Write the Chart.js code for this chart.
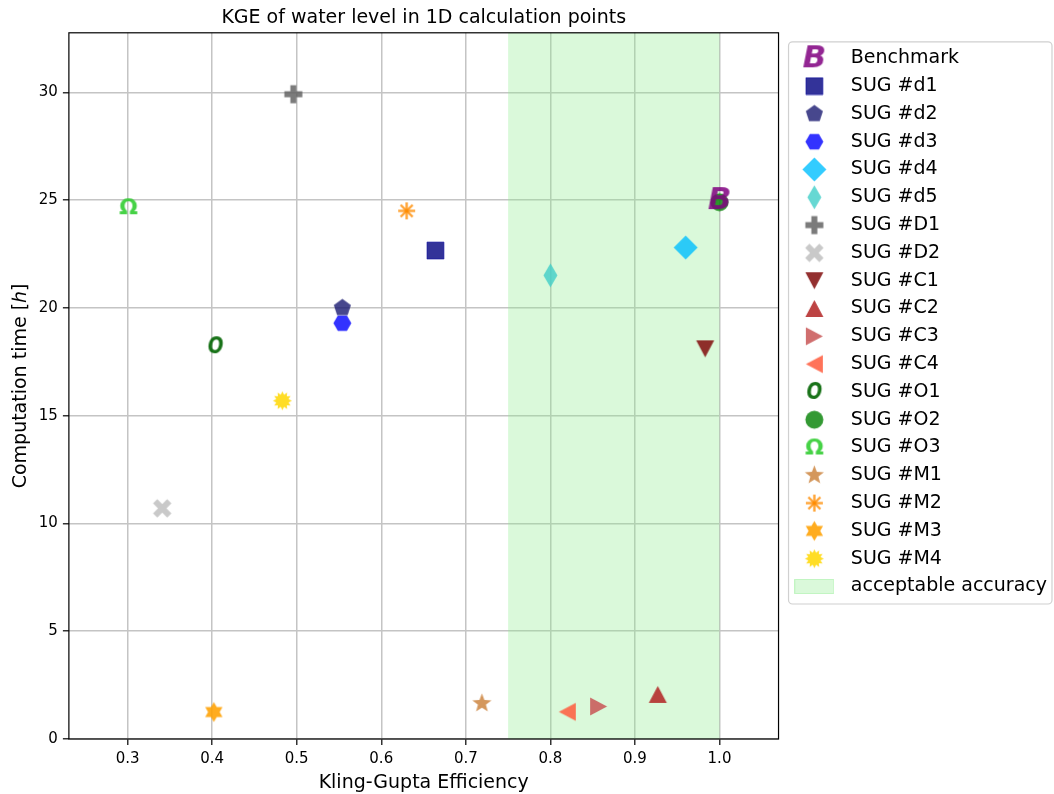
<!DOCTYPE html>
<html>
<head>
<meta charset="utf-8">
<script src="https://cdn.jsdelivr.net/npm/chart.js@4.4.1/dist/chart.umd.min.js"></script>
<style>
  html, body { margin: 0; padding: 0; background: #fff; }
  #wrap { width: 1054px; height: 794px; }
</style>
</head>
<body>
<div id="wrap"><canvas id="kgeChart" width="1054" height="794"></canvas></div>
<script>
// ====== Data ======
const seriesNames = [
  "Benchmark", "SUG #d1", "SUG #d2", "SUG #d3", "SUG #d4", "SUG #d5",
  "SUG #D1", "SUG #D2", "SUG #C1", "SUG #C2", "SUG #C3", "SUG #C4",
  "SUG #O1", "SUG #O2", "SUG #O3", "SUG #M1", "SUG #M2", "SUG #M3", "SUG #M4"
];
const kgeValues = [
  1.0, 0.664, 0.554, 0.554, 0.960, 0.800,
  0.496, 0.341, 0.983, 0.927, 0.857, 0.820,
  0.404, 1.0, 0.301, 0.719, 0.630, 0.402, 0.483
];
const hoursValues = [
  25.0, 22.66, 20.0, 19.29, 22.8, 21.51,
  29.91, 10.7, 18.1, 2.07, 1.51, 1.26,
  18.22, 24.9, 24.67, 1.65, 24.5, 1.25, 15.69
];
const bandLabel = "acceptable accuracy";
const bandRange = [0.75, 1.0];
const xTicks = [0.3, 0.4, 0.5, 0.6, 0.7, 0.8, 0.9, 1.0];
const yTicks = [0, 5, 10, 15, 20, 25, 30];
const xLimits = [0.2306, 1.0698];
const yLimits = [0, 32.76];

const FONT = '"DejaVu Sans", "Liberation Sans", sans-serif';

// ====== Markers (small canvases used as point styles) ======
function marker(w, h, draw) {
  const c = document.createElement("canvas");
  c.width = w;
  c.height = h;
  const g = c.getContext("2d");
  g.translate(w / 2, h / 2);
  draw(g);
  return c;
}

function polygon(g, pts, fill, stroke) {
  g.beginPath();
  pts.forEach(([x, y], i) => (i ? g.lineTo(x, y) : g.moveTo(x, y)));
  g.closePath();
  g.fillStyle = fill;
  g.fill();
  if (stroke) {
    g.strokeStyle = stroke;
    g.lineWidth = 1;
    g.stroke();
  }
}

function regular(n, r, start) {
  const pts = [];
  for (let i = 0; i < n; i++) {
    const a = start + (i * 2 * Math.PI) / n;
    pts.push([r * Math.cos(a), r * Math.sin(a)]);
  }
  return pts;
}

function star(n, ro, ri, start) {
  const pts = [];
  for (let i = 0; i < 2 * n; i++) {
    const a = start + (i * Math.PI) / n;
    const r = i % 2 ? ri : ro;
    pts.push([r * Math.cos(a), r * Math.sin(a)]);
  }
  return pts;
}

function glyph(g, text, font, color, sx) {
  g.font = font;
  g.fillStyle = color;
  g.textAlign = "center";
  g.textBaseline = "middle";
  if (sx) g.scale(sx, 1);
  g.fillText(text, 0, 1);
}

const UP = -Math.PI / 2;

const markers = [
  marker(36, 36, g => glyph(g, "B", "bold italic 31px " + FONT, "rgba(128,0,128,0.85)")),
  marker(19, 19, g => polygon(g, [[-8.5, -8.5], [8.5, -8.5], [8.5, 8.5], [-8.5, 8.5]], "rgba(0,0,128,0.8)", "rgba(0,0,160,0.5)")),
  marker(21, 21, g => polygon(g, regular(5, 9, UP), "rgba(25,25,112,0.8)")),
  marker(21, 21, g => polygon(g, regular(6, 9, 0), "rgba(0,0,255,0.8)")),
  marker(27, 27, g => polygon(g, [[0, -12], [12, 0], [0, 12], [-12, 0]], "rgba(0,191,255,0.8)")),
  marker(17, 27, g => polygon(g, [[0, -12], [7, 0], [0, 12], [-7, 0]], "rgba(64,206,200,0.8)")),
  marker(21, 21, g => polygon(g, [[-3, -9], [3, -9], [3, -3], [9, -3], [9, 3], [3, 3], [3, 9], [-3, 9], [-3, 3], [-9, 3], [-9, -3], [-3, -3]], "rgba(100,100,100,0.85)")),
  marker(21, 21, g => { g.rotate(Math.PI / 4); polygon(g, [[-3, -10], [3, -10], [3, -3], [10, -3], [10, 3], [3, 3], [3, 10], [-3, 10], [-3, 3], [-10, 3], [-10, -3], [-3, -3]], "rgba(195,195,195,0.9)"); }),
  marker(21, 21, g => polygon(g, [[-9, -8.5], [9, -8.5], [0, 8.5]], "rgba(128,10,10,0.85)")),
  marker(21, 21, g => polygon(g, [[0, -8.5], [9, 8.5], [-9, 8.5]], "rgba(178,34,34,0.85)")),
  marker(21, 21, g => polygon(g, [[-8.5, -9], [8.5, 0], [-8.5, 9]], "rgba(200,85,85,0.85)")),
  marker(21, 21, g => polygon(g, [[8.5, -9], [-8.5, 0], [8.5, 9]], "rgba(255,90,60,0.85)")),
  marker(24, 24, g => glyph(g, "O", "bold italic 23px " + FONT, "rgba(0,100,0,0.9)", 0.8)),
  marker(21, 21, g => { g.beginPath(); g.arc(0, 0, 9, 0, 2 * Math.PI); g.fillStyle = "rgba(0,128,0,0.8)"; g.fill(); }),
  marker(24, 24, g => glyph(g, "\u03A9", "bold 22px " + FONT, "rgba(50,205,50,0.9)")),
  marker(23, 23, g => polygon(g, star(5, 10, 4.2, UP), "rgba(205,133,63,0.85)")),
  marker(21, 21, g => {
    g.strokeStyle = "rgba(255,140,0,0.8)";
    g.lineWidth = 2.4;
    g.lineCap = "butt";
    for (let i = 0; i < 4; i++) {
      const a = (i * Math.PI) / 4;
      g.beginPath();
      g.moveTo(-8.5 * Math.cos(a), -8.5 * Math.sin(a));
      g.lineTo(8.5 * Math.cos(a), 8.5 * Math.sin(a));
      g.stroke();
    }
  }),
  marker(23, 23, g => polygon(g, star(6, 10, 5.8, UP), "rgba(255,160,0,0.88)")),
  marker(23, 23, g => polygon(g, star(12, 9.5, 6.3, UP), "rgba(255,215,0,0.85)"))
];

const bandMarker = marker(40, 15, g => {
  g.fillStyle = "rgba(144,238,144,0.33)";
  g.fillRect(-19.5, -7, 39, 14);
  g.strokeStyle = "rgba(144,238,144,0.45)";
  g.lineWidth = 1;
  g.strokeRect(-19.5, -7, 39, 14);
});

// ====== Datasets ======
const datasets = seriesNames.map((name, i) => ({
  label: name,
  data: [{ x: kgeValues[i], y: hoursValues[i] }],
  pointStyle: markers[i],
  pointRadius: 5
}));
datasets.push({ label: bandLabel, data: [], pointStyle: bandMarker, pointRadius: 5 });

// ====== Plugins ======
const bandPlugin = {
  id: "accuracyBand",
  beforeDatasetsDraw(chart) {
    const { ctx, chartArea, scales } = chart;
    const x0 = scales.x.getPixelForValue(bandRange[0]);
    const x1 = scales.x.getPixelForValue(bandRange[1]);
    ctx.save();
    ctx.fillStyle = "rgba(144,238,144,0.33)";
    ctx.fillRect(x0, chartArea.top, x1 - x0, chartArea.bottom - chartArea.top);
    ctx.restore();
  },
  afterDatasetsDraw(chart) {
    const { ctx, chartArea } = chart;
    ctx.save();
    ctx.strokeStyle = "#000";
    ctx.lineWidth = 1.2;
    ctx.strokeRect(chartArea.left, chartArea.top, chartArea.right - chartArea.left, chartArea.bottom - chartArea.top);
    ctx.restore();
  }
};

// frame around the legend, like matplotlib
const legendFrame = {
  id: "legendFrame",
  beforeDraw(chart) {
    const lg = chart.legend;
    if (!lg || !lg.legendHitBoxes.length) return;
    const boxes = lg.legendHitBoxes;
    const first = boxes[0];
    const last = boxes[boxes.length - 1];
    const x = lg.left + 10;
    const y = first.top - 7;
    const w = Math.min(chart.width - 2, lg.right + 7) - x;
    const h = last.top + last.height + 8 - y;
    const { ctx } = chart;
    ctx.save();
    ctx.beginPath();
    ctx.roundRect(x, y, w, h, 4);
    ctx.fillStyle = "rgba(255,255,255,0.8)";
    ctx.fill();
    ctx.strokeStyle = "#d0d0d0";
    ctx.lineWidth = 1.2;
    ctx.stroke();
    ctx.restore();
  }
};

// ====== Chart ======
Chart.defaults.font.family = FONT;
Chart.defaults.color = "#000";

new Chart(document.getElementById("kgeChart"), {
  type: "scatter",
  data: { datasets },
  plugins: [legendFrame, bandPlugin],
  options: {
    responsive: false,
    animation: false,
    events: [],
    layout: { padding: { left: 4, right: -3, top: 0, bottom: 0 } },
    plugins: {
      tooltip: { enabled: false },
      title: {
        display: true,
        text: "KGE of water level in 1D calculation points",
        fullSize: false,
        font: { size: 19, weight: "normal" },
        color: "#000",
        padding: { top: 7, bottom: 3 }
      },
      legend: {
        position: "right",
        align: "start",
        fullSize: false,
        maxWidth: 320,
        title: { display: true, text: "", font: { size: 1 }, padding: { top: 3, bottom: 3 } },
        labels: {
          usePointStyle: true,
          pointStyleWidth: 54,
          padding: 8.8,
          color: "#000",
          font: { size: 19 }
        }
      }
    },
    scales: {
      x: {
        type: "linear",
        min: xLimits[0],
        max: xLimits[1],
        afterBuildTicks: s => { s.ticks = xTicks.map(v => ({ value: v })); },
        ticks: { font: { size: 15, lineHeight: 1 }, color: "#000", padding: 7, callback: v => v.toFixed(1) },
        grid: { color: "#c4c4c4", lineWidth: 1.5, tickLength: 6, tickColor: "#333" },
        border: { display: false },
        title: { display: true, text: "Kling-Gupta Efficiency", font: { size: 19, lineHeight: 1 }, color: "#000", padding: { top: 0, bottom: 1 } }
      },
      y: {
        type: "linear",
        min: yLimits[0],
        max: yLimits[1],
        afterBuildTicks: s => { s.ticks = yTicks.map(v => ({ value: v })); },
        ticks: { font: { size: 15 }, color: "#000", padding: 5, callback: v => String(v) },
        grid: { color: "#c4c4c4", lineWidth: 1.5, tickLength: 6, tickColor: "#333" },
        border: { display: false },
        title: { display: true, text: "Computation time [\u210E]", font: { size: 19 }, color: "#000", padding: { top: 6, bottom: 1 } }
      }
    }
  }
});
</script>
</body>
</html>
